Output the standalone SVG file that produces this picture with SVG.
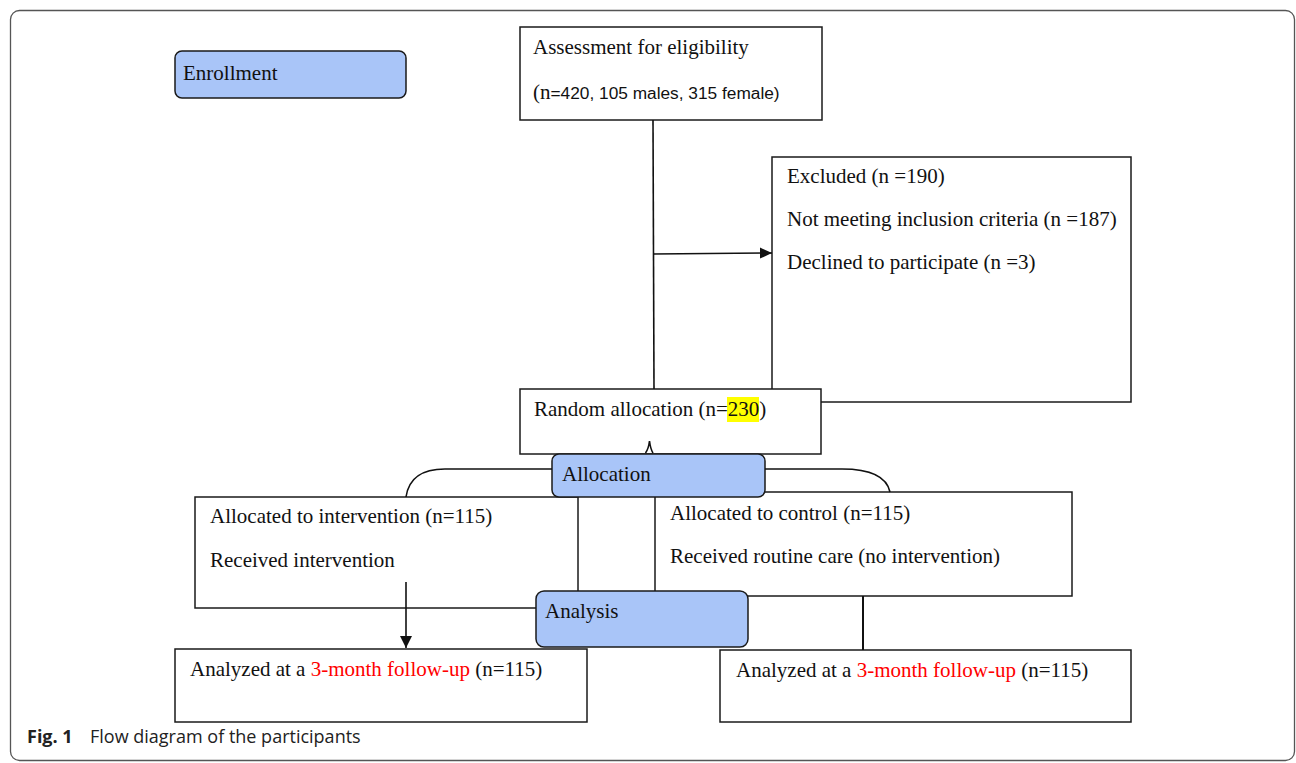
<svg xmlns="http://www.w3.org/2000/svg" width="1296" height="763" viewBox="0 0 1296 763">
<defs>
<style>
.box{fill:#fff;stroke:#1a1a1a;stroke-width:1.5}
.phase{fill:#a9c5f8;stroke:#1a1a1a;stroke-width:1.5}
.t{font-family:"Liberation Serif","Times New Roman",serif;font-size:21px;fill:#111}
.s{font-family:"Liberation Sans",Arial,sans-serif;font-size:17.3px;fill:#111}
.red{fill:#ff0000}
.ln{fill:none;stroke:#111;stroke-width:1.6}
.cap{font-family:"Open Sans","Noto Sans",sans-serif;font-size:18px;fill:#222}
</style>
<marker id="ah" viewBox="0 0 12 12" refX="12" refY="6" markerWidth="12" markerHeight="12" markerUnits="userSpaceOnUse" orient="auto">
<path d="M0,0.5 L12,6 L0,11.5 Z" fill="#111"/>
</marker>
<marker id="ahd" viewBox="0 0 12 12" refX="12" refY="6" markerWidth="12" markerHeight="12" markerUnits="userSpaceOnUse" orient="auto">
<path d="M0,0 L12,6 L0,12 Z" fill="#111"/>
</marker>
</defs>
<rect x="10.5" y="10.5" width="1284" height="750" rx="9" fill="#fff" stroke="#555" stroke-width="1.3"/>

<g id="enrollment">
<rect class="phase" x="175" y="51" width="231" height="47" rx="7"/>
<text class="t" x="183" y="80">Enrollment</text>
</g>
<g id="assessment">
<rect class="box" x="520" y="27" width="302" height="93"/>
<text class="t" x="533" y="54">Assessment for eligibility</text>
<text x="533" y="99"><tspan class="t">(n</tspan><tspan class="s">=420, 105 males, 315 female)</tspan></text>
</g>
<g id="excluded">
<rect class="box" x="772" y="157" width="359" height="245"/>
<text class="t" x="787" y="183">Excluded (n =190)</text>
<text class="t" x="787" y="226">Not meeting inclusion criteria (n =187)</text>
<text class="t" x="787" y="269">Declined to participate (n =3)</text>
</g>
<g id="random">
<rect class="box" x="520" y="389" width="301" height="65"/>
<rect x="727" y="397" width="32" height="25" fill="#ffff00"/>
<text class="t" x="534" y="416">Random allocation (n=230)</text>
</g>
<g id="intervention">
<rect class="box" x="195" y="497" width="383" height="111"/>
<text class="t" x="210" y="523">Allocated to intervention (n=115)</text>
<text class="t" x="210" y="567">Received intervention</text>
</g>
<g id="control">
<rect class="box" x="655" y="492" width="417" height="104"/>
<text class="t" x="670" y="520">Allocated to control (n=115)</text>
<text class="t" x="670" y="563">Received routine care (no intervention)</text>
</g>
<g id="allocation">
<rect class="phase" x="552" y="454" width="213" height="43" rx="7"/>
<text class="t" x="562" y="481">Allocation</text>
</g>
<g id="analysis">
<rect class="phase" x="536" y="591" width="212" height="56" rx="8"/>
<text class="t" x="545" y="618">Analysis</text>
</g>
<g id="analyzed-intervention">
<rect class="box" x="175" y="649" width="412" height="73"/>
<text class="t" x="190" y="676">Analyzed at a <tspan class="red">3-month follow-up</tspan> (n=115)</text>
</g>
<g id="analyzed-control">
<rect class="box" x="720" y="650" width="411" height="72"/>
<text class="t" x="736" y="677">Analyzed at a <tspan class="red">3-month follow-up</tspan> (n=115)</text>
</g>

<g id="connectors">
<line class="ln" x1="653" y1="120" x2="654" y2="389" stroke-width="1.8"/>
<line class="ln" x1="653" y1="254" x2="772" y2="253" stroke-width="1.8" marker-end="url(#ah)"/>
<path class="ln" d="M645.5,453 Q648.5,449 649.5,441 Q650.5,449 653,453" stroke-width="1.3"/>
<path class="ln" d="M552,469 L445,469 Q410,469 406,497"/>
<path class="ln" d="M765,469 L842,469 Q885,469 890,492"/>
<line class="ln" x1="406" y1="582" x2="406" y2="648" marker-end="url(#ahd)"/>
<line x1="863" y1="596" x2="863" y2="650" stroke="#111" stroke-width="2"/>
</g>

<text class="cap" x="27" y="743"><tspan font-weight="bold">Fig. 1</tspan><tspan x="90">Flow diagram of the participants</tspan></text>
</svg>
